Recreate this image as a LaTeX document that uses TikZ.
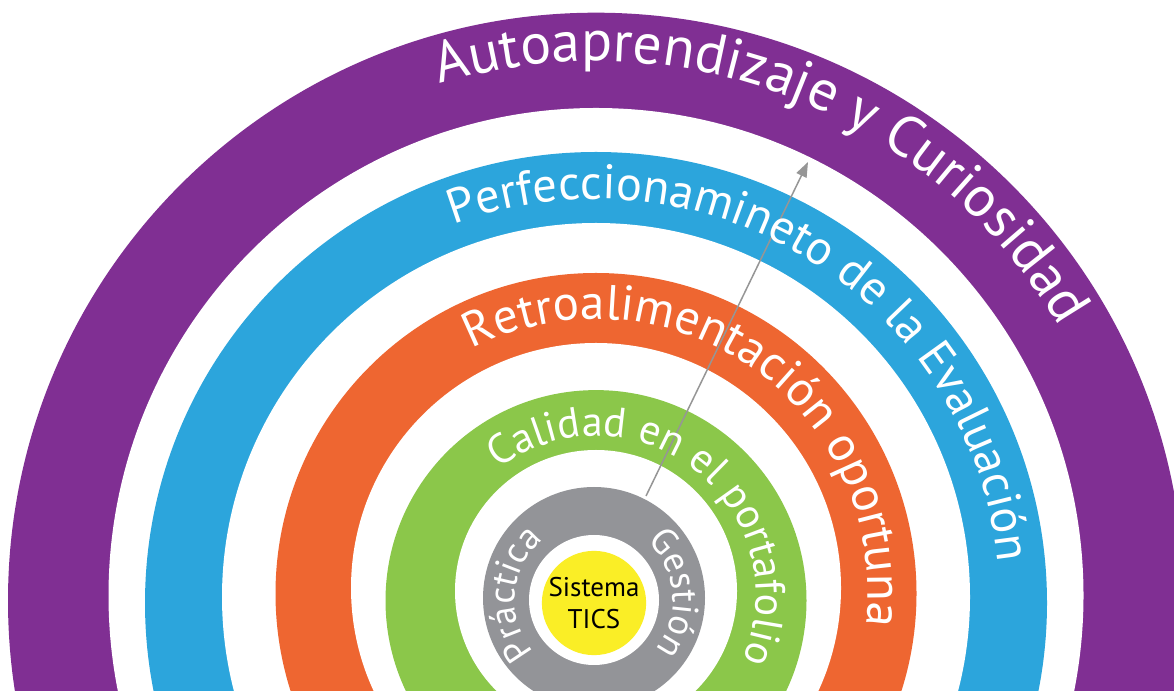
\documentclass[tikz,border=0pt]{standalone}
\usepackage{fontspec}
\setmainfont{PT Sans}
\usetikzlibrary{decorations.text,arrows.meta}
\definecolor{cpurple}{RGB}{128,47,147}
\definecolor{cblue}{RGB}{44,165,220}
\definecolor{corange}{RGB}{238,102,49}
\definecolor{cgreen}{RGB}{139,199,74}
\definecolor{cgray}{RGB}{147,148,152}
\definecolor{cyellow}{RGB}{250,238,38}
\definecolor{carrow}{RGB}{150,150,150}
\newlength\txtlen
\newcommand\fitfont[3]{\settowidth\txtlen{\fontsize{10}{12}\selectfont #2}\pgfmathsetmacro#1{10*#3/\txtlen}}
\begin{document}
\fitfont\fszA{Autoaprendizaje y Curiosidad}{716}%
\fitfont\fszB{Perfeccionamineto de la Evaluación}{735}%
\fitfont\fszC{Retroalimentación oportuna}{590}%
\fitfont\fszD{Calidad en el portafolio}{423}%
\begin{tikzpicture}[x=1pt,y=1pt,
  disc/.style={circle,inner sep=0pt,minimum size=#1},
  arctext/.style 2 args={decorate,decoration={text along path,text align=left,text={|\fontsize{#1}{#1}\selectfont\color{white}|#2}}}]
\useasboundingbox (0,0) rectangle (1174,690);
\fill[white] (0,0) rectangle (1174,690);
% rings (outer to inner)
\node[disc=1176,fill=cpurple] (purpleO) at (596,89.3) {};
\node[disc=975,fill=white] (purpleI) at (596,94.5) {};
\node[disc=902,fill=cblue] (blueO) at (596,87) {};
\node[disc=748,fill=white] (blueI) at (596,93) {};
\node[disc=641,fill=corange] (orangeO) at (596,96.5) {};
\node[disc=490,fill=white] (orangeI) at (596,102) {};
\node[disc=421,fill=cgreen] (greenO) at (596,89.4) {};
\node[disc=282,fill=white] (greenI) at (596,99) {};
\node[disc=222,fill=cgray] (grayO) at (594,92) {};
\node[disc=130,fill=white] (grayI) at (594,90) {};
\node[disc=102,fill=cyellow,font=\fontsize{27}{32}\selectfont,align=center,text=black] (sys) at (594,87) {Sistema\\TICS};
% text centres
\coordinate (pc) at (596,92);
\coordinate (bc) at (596,87);
\coordinate (oc) at (596,99);
\coordinate (gc) at (596,94);
\coordinate (yc) at (594,90);
% arrow
\coordinate (astart) at (646,194);
\coordinate (aend) at (808,528);
\draw[carrow,line width=1.5pt,-{Triangle[length=15pt,width=11pt]}] (astart) -- (aend);
% curved labels
\path[arctext={\fszA}{Autoaprendizaje y Curiosidad}] ([shift={(106.9:537)}]pc) arc[start angle=106.9,end angle=5,radius=537];
\path[arctext={\fszB}{Perfeccionamineto de la Evaluación}] ([shift={(110.6:404)}]bc) arc[start angle=110.6,end angle=-20,radius=404];
\path[arctext={\fszC}{Retroalimentación oportuna}] ([shift={(117.2:272)}]oc) arc[start angle=117.2,end angle=-30,radius=272];
\path[arctext={\fszD}{Calidad en el portafolio}] ([shift={(127.6:160)}]gc) arc[start angle=127.6,end angle=-50,radius=160];
\path[arctext={37}{Práctica}] ([shift={(221:79)}]yc) arc[start angle=221,end angle=90,radius=79];
\path[arctext={37}{Gestión}] ([shift={(48:79)}]yc) arc[start angle=48,end angle=-80,radius=79];
\end{tikzpicture}
\end{document}
